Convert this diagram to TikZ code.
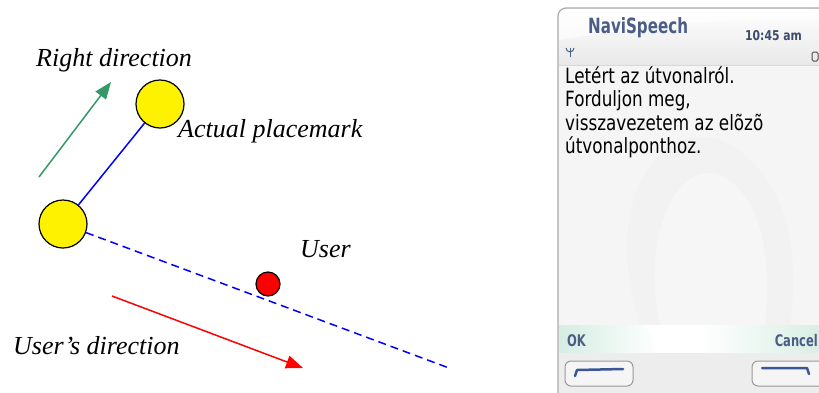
\documentclass[tikz,border=0pt]{standalone}
\usepackage{fontspec}
\setmainfont{Liberation Serif}
\newfontfamily\phonefont[FakeStretch=0.8]{DejaVu Sans}
\newfontfamily\phonetitle[FakeStretch=0.72]{DejaVu Sans}
\usetikzlibrary{arrows.meta,calc}
\definecolor{arrowgreen}{HTML}{339966}
\definecolor{titleblue}{HTML}{4B5E86}
\definecolor{softblue}{HTML}{3A5696}
\definecolor{framegray}{HTML}{ABABAB}
\definecolor{bandgreen}{HTML}{D6EDE3}
\tikzset{
  place/.style={circle,draw=black,line width=1.2pt,fill=yellow,minimum size=48pt,inner sep=0pt},
  userdot/.style={circle,draw=black,line width=1.2pt,fill=red,minimum size=24pt,inner sep=0pt},
  lbl/.style={font=\fontsize{26}{30}\selectfont\itshape,anchor=base west,inner sep=0pt},
  dirarrow/.style={line width=1.5pt,-{Triangle[length=17pt,width=13pt]}},
  phonetext/.style={font=\phonefont\fontsize{21}{24}\selectfont,anchor=base west,inner sep=0pt,text=black},
  softkey/.style={font=\phonetitle\bfseries\fontsize{16}{18}\selectfont,inner sep=0pt,text=titleblue},
  keybtn/.style={draw=gray!80,line width=1pt,fill=gray!8,rounded corners=6pt},
  keyline/.style={draw=softblue,line width=2.5pt,line cap=round,line join=round}
}
\begin{document}
\begin{tikzpicture}[x=1pt,y=-1pt]
\useasboundingbox (0,0) rectangle (819,392);
% ---------- left diagram ----------
\node[place] (p2) at (160,104) {};
\node[place] (p1) at (63,224) {};
\node[userdot] (u) at (268,284) {};
\coordinate (dashend) at (449,368);
\draw[blue,line width=1.5pt] (p1) -- (p2);
\draw[blue,line width=1.5pt,dash pattern=on 8pt off 5pt] (p1) -- (dashend);
\coordinate (g1) at (39,177);
\coordinate (g2) at (111,82);
\draw[dirarrow,arrowgreen] (g1) -- (g2);
\coordinate (r1) at (112,296);
\coordinate (r2) at (303,368);
\draw[dirarrow,red] (r1) -- (r2);
\node[lbl] (tright) at (36,66) {Right direction};
\node[lbl] (tactual) at (178,137) {Actual placemark};
\node[lbl] (tuser) at (300,257) {User};
\node[lbl] (tusersdir) at (13,354) {User’s direction};
% ---------- phone screen ----------
\begin{scope}
\clip (0,0) rectangle (819,392);
\fill[gray!10] (558,8) [rounded corners=8pt] -- (558,400) -- (830,400) -- (830,8) -- cycle;
% header
\shade[top color=white,bottom color=gray!18] (559,9) rectangle (830,65);
\fill[white,opacity=0.6] (559,40) .. controls (620,30) and (700,20) .. (830,15) -- (830,9) -- (559,9) -- cycle;
\draw[gray!30,line width=1pt] (559,65) -- (830,65);
% body
\fill[gray!8] (559,66) rectangle (830,325);
\fill[gray!11,opacity=0.6] (640,325) .. controls (600,200) and (660,120) .. (720,140)
  .. controls (790,170) and (800,260) .. (790,325) -- cycle;
\fill[gray!5,opacity=0.7] (660,325) .. controls (640,230) and (680,160) .. (720,175)
  .. controls (770,200) and (770,280) .. (765,325) -- cycle;
% softkey band
\shade[left color=bandgreen,right color=white] (559,325) rectangle (660,353);
\fill[white] (645,325) -- (700,325) -- (715,353) -- (660,353) -- cycle;
\shade[left color=white,right color=bandgreen] (700,325) rectangle (830,353);
% bottom key area
\fill[gray!14] (559,353) rectangle (830,400);
% frame
\draw[framegray,line width=1.2pt] (558,400) [rounded corners=8pt] -- (558,8) -- (830,8);
% title and status
\node[font=\phonetitle\bfseries\fontsize{21}{24}\selectfont,text=titleblue,anchor=base west,inner sep=0pt] (title) at (588,33) {NaviSpeech};
\node[font=\phonefont\bfseries\fontsize{13.5}{16}\selectfont,text=titleblue!80!black,anchor=base west,inner sep=0pt] (clock) at (745,40) {10:45 am};
% antenna icon
\coordinate (ant) at (570,52);
\draw[titleblue,line width=1pt] ($(ant)+(-4,-4)$) .. controls ($(ant)+(-4,1)$) and ($(ant)+(4,1)$) .. ($(ant)+(4,-4)$);
\draw[titleblue,line width=1pt] ($(ant)+(0,-4)$) -- ($(ant)+(0,5)$);
% battery icon
\coordinate (bat) at (815,56);
\draw[black!70,line width=1pt,rounded corners=1.5pt] ($(bat)+(-3,5)$) rectangle ($(bat)+(3,-4)$);
% body text
\node[phonetext] (l1) at (565,83) {Letért az útvonalról.};
\node[phonetext] (l2) at (565,106.5) {Forduljon meg,};
\node[phonetext] (l3) at (565,130) {visszavezetem az elõzõ};
\node[phonetext] (l4) at (565,153.5) {útvonalponthoz.};
% soft keys
\node[softkey,anchor=base west] (ok) at (567,346) {OK};
\node[softkey,anchor=base east] (cancel) at (818,346) {Cancel};
\draw[keybtn] (565,361) rectangle (633,386);
\draw[keyline] (575,376) -- (577,370) -- (623,369);
\draw[keybtn] (752,361) rectangle (828,386);
\draw[keyline] (762,368) -- (807,368) -- (809,374);
\end{scope}
\end{tikzpicture}
\end{document}
